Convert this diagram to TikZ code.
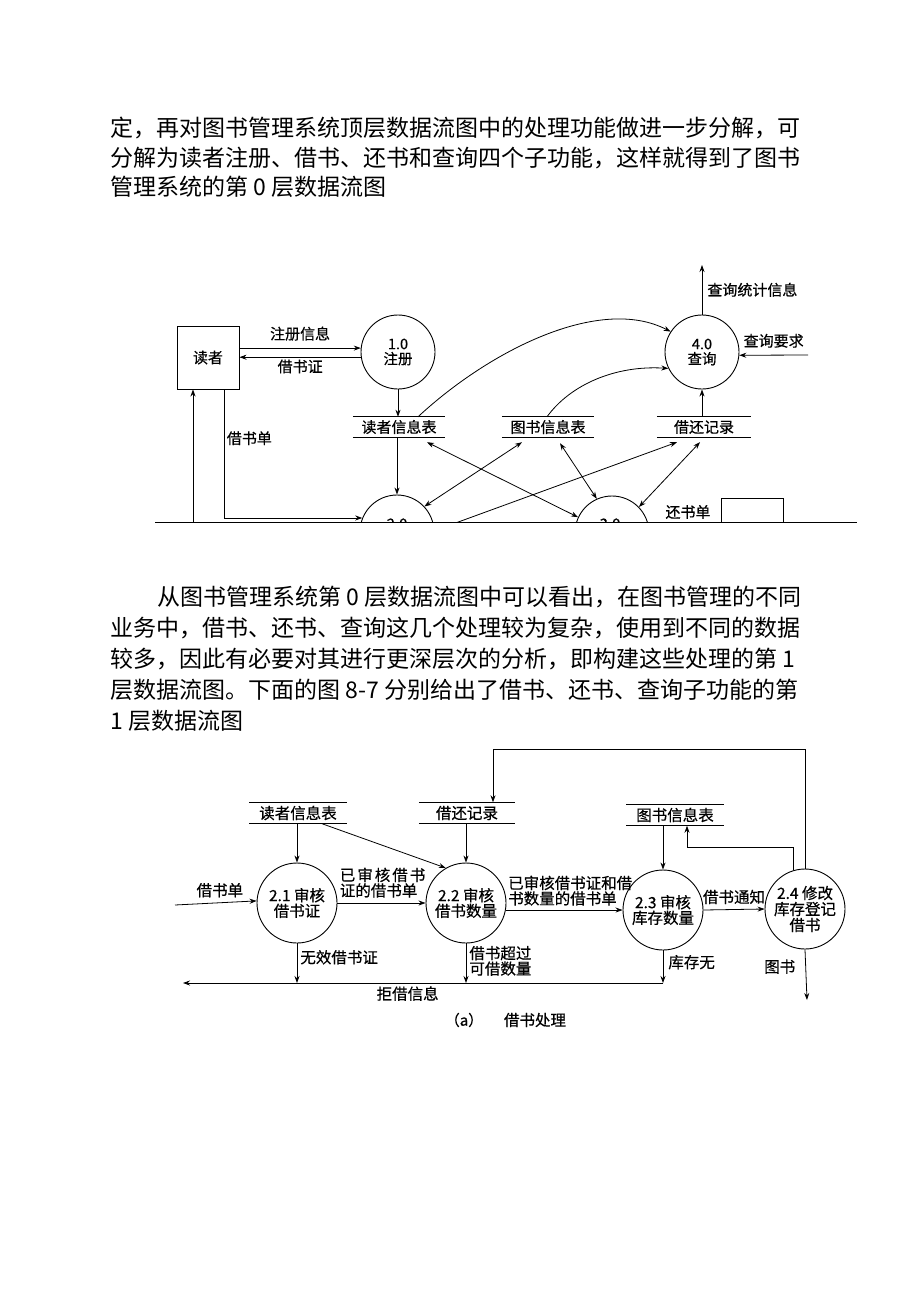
\documentclass[tikz,border=0pt]{standalone}
\usepackage{fontspec}
\setmainfont{Noto Sans CJK SC}
\newfontfamily\dgfont[FakeBold=0.5]{Noto Sans CJK SC}
\usetikzlibrary{arrows.meta,positioning}

\begin{document}
\begin{tikzpicture}[x=1pt,y=-1pt,
  every node/.style={inner sep=0pt},
  para/.style={anchor=base west,font=\fontsize{23}{23}\selectfont},
  ent/.style={draw,line width=0.9pt,minimum width=62pt,minimum height=63pt,font=\dgfont\fontsize{15}{15}\selectfont},
  proc/.style={draw,circle,line width=0.9pt,minimum size=74pt,align=center,font=\dgfont\fontsize{14.5}{15}\selectfont},
  procb/.style={draw,circle,line width=0.9pt,minimum size=80pt,align=center,font=\dgfont\fontsize{15.5}{15.5}\selectfont},
  store/.style={minimum height=20pt,font=\dgfont\fontsize{15}{15}\selectfont},
  storeb/.style={minimum height=21pt,font=\dgfont\fontsize{15.5}{15.5}\selectfont},
  lbl/.style={font=\dgfont\fontsize{15}{15}\selectfont,inner sep=2pt},
  lblb/.style={font=\dgfont\fontsize{15.5}{15.5}\selectfont,inner sep=2pt},
  flow/.style={-{Stealth[length=7pt,width=5pt]},line width=0.8pt},
  dflow/.style={{Stealth[length=7pt,width=5pt]}-{Stealth[length=7pt,width=5pt]},line width=0.8pt}]
\fill[white] (0,0) rectangle (920,1302);
\useasboundingbox (0,0) rectangle (920,1302);

% text above
\node[para] (t1) at (110,136) {定，再对图书管理系统顶层数据流图中的处理功能做进一步分解，可};
\node[para] (t2) at (110,166) {分解为读者注册、借书、还书和查询四个子功能，这样就得到了图书};
\node[para] (t3) at (110,195) {管理系统的第 0 层数据流图};

% level 0 diagram (cut at the bottom)
\begin{scope}
\clip (150,250) rectangle (870,522);
\node[ent] (reader) at (208,357.5) {读者};
\node[proc] (reg) at (398,352) {1.0\\注册};
\node[proc] (qry) at (702,352) {4.0\\查询};
\node[proc] (brw) at (397,532) {};
\node[lbl] (lbrw) at (397,524) {2.0};
\node[proc] (ret) at (612,533) {};
\node[lbl] (lret30) at (610,524) {3.0};
\node[ent] (rbox) at (752,530) {};
\node[store,minimum width=92pt] (rdb) at (399,427) {读者信息表};
\node[store,minimum width=92pt] (bkdb) at (548,427) {图书信息表};
\node[store,minimum width=94pt] (recdb) at (704,427) {借还记录};
\coordinate (rup) at (193,540);
\coordinate (qout) at (702,265);
\coordinate (qin) at (808,355);

\draw[flow] (reader.east |- reg.174) -- node[lbl,above=5pt] (lreg) {注册信息} (reg.174);
\draw[flow] (reg.188) -- node[lbl,below=0pt] (lcard) {借书证} (reader.east |- reg.188);
\draw[flow] (reg.south) -- (reg.south |- rdb.north);
\draw[flow] (rdb.south -| brw.north) -- (brw.north);
\draw[flow] (rup) -- (rup |- reader.south);
\draw[flow] ([xshift=16.5pt]reader.south) |- node[lbl,right,pos=0.19] (lform) {借书单} (brw.158);
\draw[flow] ([xshift=19pt]rdb.north) .. controls (490,350) and (600,295) .. (qry.147);
\draw[flow] ([xshift=-1pt]bkdb.north) .. controls (570,385) and (615,365) .. (qry.206);
\draw[flow] (qry.south |- recdb.north) -- (qry.south);
\draw[flow] (qry.north) -- node[lbl,right=3pt] (lqout) {查询统计信息} (qout);
\draw[flow] (qin) -- node[lbl,above=5pt] (lqin) {查询要求} (qry.-5);
\draw[dflow] ([xshift=28pt,yshift=-5pt]rdb.south) -- (ret.155);
\draw[dflow] ([xshift=-26pt,yshift=-5pt]bkdb.south) -- (brw.43);
\draw[flow] (brw.2) -- ([xshift=-27pt,yshift=-5pt]recdb.south);
\draw[dflow] ([xshift=12pt,yshift=-6pt]bkdb.south) -- (ret.114);
\draw[dflow] ([xshift=-4pt,yshift=-5pt]recdb.south) -- (ret.44);
\node[lbl] (lback) at (688,512) {还书单};
\end{scope}
\draw[line width=0.9pt] (155,522) -- (857,522);

% text between
\node[para] (u1) at (157,605) {从图书管理系统第 0 层数据流图中可以看出，在图书管理的不同};
\node[para] (u2) at (110,636) {业务中，借书、还书、查询这几个处理较为复杂，使用到不同的数据};
\node[para] (u3) at (110,667) {较多，因此有必要对其进行更深层次的分析，即构建这些处理的第 1};
\node[para] (u4) at (110,698) {层数据流图。下面的图 8-7 分别给出了借书、还书、查询子功能的第};
\node[para] (u5) at (110,729) {1 层数据流图};

% level 1 diagram: borrowing
\node[procb] (p21) at (297,903) {2.1 审核\\借书证};
\node[procb] (p22) at (466,903) {2.2 审核\\借书数量};
\node[procb] (p23) at (663,910) {2.3 审核\\库存数量};
\node[procb,font=\dgfont\fontsize{15.5}{16}\selectfont] (p24) at (805,909) {2.4 修改\\库存登记\\借书};
\node[storeb,minimum width=97pt] (rdb2) at (298,813) {读者信息表};
\node[storeb,minimum width=96pt] (recdb2) at (467,813) {借还记录};
\node[storeb,minimum width=97pt] (bkdb2) at (675,815) {图书信息表};
\coordinate (in21) at (175,905);
\coordinate (rej) at (183,983);
\coordinate (fb) at (805,749);
\coordinate (bout) at (807,1000);

\foreach \s in {rdb,bkdb,recdb,rdb2,recdb2,bkdb2}
  \draw[line width=0.9pt] (\s.north west) -- (\s.north east) (\s.south west) -- (\s.south east);

\draw[flow] (rdb2.south -| p21.north) -- (p21.north);
\draw[flow] ([xshift=24pt]rdb2.south) -- (p22.120);
\draw[flow] (recdb2.south -| p22.north) -- (p22.north);
\draw[flow] (p24.north) -- (fb) -| ([xshift=26pt]recdb2.north);
\draw[flow] (p23.north |- bkdb2.south) -- (p23.north);
\draw[flow] (p24.107) -- (p24.107 |- 0,847) -| ([xshift=12pt]bkdb2.south);
\draw[flow] (in21) -- node[lblb,above=3pt,pos=0.55] (lin21) {借书单} (p21.177);
\draw[flow] (p21.east) -- node[lblb,anchor=south west,pos=0,align=left,yshift=3pt] (l2122)
  {已\hspace{2pt}审\hspace{2pt}核\hspace{2pt}借\hspace{2pt}书\\证的借书单} (p22.west);
\draw[flow] (p22.-10) -- node[lblb,anchor=south west,pos=0,align=left,yshift=2pt] (l2223)
  {已审核借书证和借\\书数量的借书单} (p23.west |- p22.-10);
\draw[flow] (p23.east) -- node[lblb,above=3pt] (l2324) {借书通知} (p24.west);
\draw[flow] (p21.south) -- node[lblb,right=1pt,pos=0.35] (lbad) {无效借书证} (p21.south |- rej);
\draw[flow] (p22.south) -- node[lblb,right=1pt,pos=0.44,align=left] (lover) {借书超过\\可借数量} (p22.south |- rej);
\draw[flow] (p23.south) -- node[lblb,right=3pt,pos=0.36] (lnone) {库存无} (p23.south |- rej);
\draw[flow] (p23.south |- rej) -- node[lblb,below=1pt,pos=0.532] (lrej) {拒借信息} (rej);
\draw[flow] (p24.south) -- node[lblb,left=8pt,pos=0.34] (lbook) {图书} (bout);
\node[font=\dgfont\fontsize{15}{15}\selectfont] (capa) at (464,1020) {（a）};
\node[font=\dgfont\fontsize{15.5}{15.5}\selectfont] (capt) at (535,1020) {借书处理};
\end{tikzpicture}
\end{document}
